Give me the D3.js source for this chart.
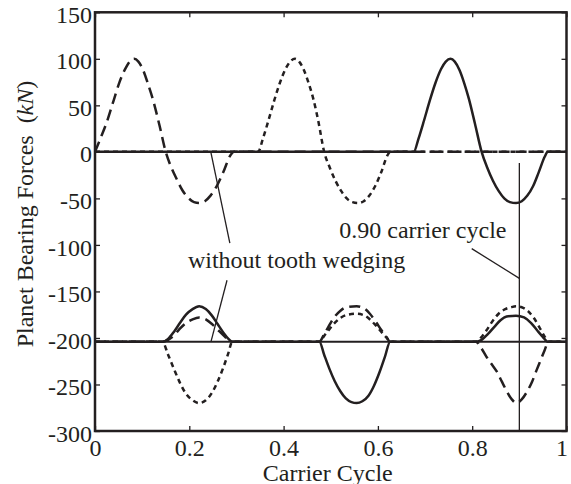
<!DOCTYPE html>
<html>
<head>
<meta charset="utf-8">
<script src="https://cdn.jsdelivr.net/npm/d3@7/dist/d3.min.js"></script>
<style>
  body { margin: 0; background: #fff; }
  svg { display: block; }
  text { font-family: "Liberation Serif", "Times New Roman", serif; fill: #231f20; }
</style>
</head>
<body>
<svg id="chart" width="571" height="484"></svg>
<script>
// ---- axis ticks ----
const xTicks = [0, 0.2, 0.4, 0.6, 0.8, 1];
const xTickLabels = ["0", "0.2", "0.4", "0.6", "0.8", "1"];
const yTicks = [150, 100, 50, 0, -50, -100, -150, -200, -250, -300];
const yTickLabels = ["150", "100", "50", "0", "-50", "-100", "-150", "-200", "-250", "-300"];

// ---- upper planet bearing (around 0 kN): [carrier cycle, force kN] ----
const upperDashed = [[0,0],[0.012,15],[0.025,32],[0.04,56],[0.052,75],[0.065,90],[0.075,98],[0.083,100],[0.092,97],[0.102,88],[0.113,72],[0.123,56],[0.137,28],[0.15,0],[0.162,-17],[0.174,-30],[0.185,-41],[0.197,-49],[0.21,-54],[0.221,-55],[0.233,-53],[0.245,-47],[0.258,-37],[0.272,-22],[0.288,-3],[0.295,0],[1,0]];
const upperDotted = [[0,0],[0.346,0],[0.356,14],[0.368,34],[0.38,55],[0.392,74],[0.404,89],[0.414,97],[0.424,100],[0.433,97],[0.443,88],[0.453,74],[0.463,57],[0.474,32],[0.486,0],[0.498,-17],[0.51,-31],[0.522,-42],[0.534,-50],[0.546,-54],[0.558,-55],[0.57,-53],[0.582,-47],[0.594,-37],[0.607,-22],[0.62,-4],[0.626,0],[1,0]];
const upperSolid = [[0,0],[0.676,0],[0.686,14],[0.698,34],[0.71,55],[0.722,74],[0.734,89],[0.744,97],[0.754,100],[0.763,97],[0.773,88],[0.783,74],[0.793,57],[0.806,30],[0.82,0],[0.832,-17],[0.844,-31],[0.856,-42],[0.868,-50],[0.88,-54],[0.893,-55],[0.905,-53],[0.917,-47],[0.929,-37],[0.941,-22],[0.954,-5],[0.96,0],[1,0]];

// ---- lower planet bearing (around -200 kN) ----
const lowerSolid = [[0,-204],[0.143,-204],[0.155,-201],[0.168,-193],[0.18,-184],[0.193,-175],[0.207,-169],[0.221,-166],[0.235,-169],[0.248,-176],[0.26,-185],[0.272,-194],[0.283,-201],[0.291,-204],
  [0.476,-204],[0.486,-218],[0.497,-233],[0.508,-246],[0.52,-257],[0.532,-265],[0.544,-269],[0.555,-270],[0.567,-268],[0.58,-262],[0.592,-251],[0.604,-236],[0.615,-220],[0.626,-204],
  [0.808,-204],[0.82,-202],[0.833,-196],[0.847,-188],[0.86,-181],[0.873,-177],[0.893,-176],[0.91,-178],[0.925,-184],[0.938,-192],[0.95,-199],[0.96,-204],[1,-204]];
const lowerDashed = [[0,-204],[0.143,-204],[0.155,-202],[0.168,-197],[0.18,-190],[0.193,-184],[0.207,-180],[0.221,-178],[0.235,-180],[0.248,-185],[0.26,-191],[0.272,-197],[0.283,-202],[0.291,-204],
  [0.476,-204],[0.485,-197],[0.495,-188],[0.507,-178],[0.52,-171],[0.533,-167],[0.555,-166],[0.57,-168],[0.583,-174],[0.596,-183],[0.608,-192],[0.618,-199],[0.626,-204],
  [0.808,-204],[0.818,-210],[0.83,-220],[0.841,-228],[0.852,-236],[0.863,-247],[0.873,-257],[0.884,-266],[0.894,-270],[0.905,-266],[0.916,-258],[0.927,-247],[0.937,-234],[0.945,-224],[0.953,-214],[0.962,-204],[1,-204]];
const lowerDotted = [[0,-204],[0.143,-204],[0.155,-218],[0.168,-234],[0.18,-248],[0.193,-260],[0.207,-267],[0.221,-270],[0.235,-267],[0.248,-259],[0.26,-247],[0.272,-232],[0.283,-216],[0.291,-204],
  [0.476,-204],[0.487,-197],[0.498,-190],[0.51,-183],[0.522,-178],[0.536,-175],[0.555,-174],[0.572,-176],[0.585,-181],[0.598,-188],[0.61,-195],[0.619,-200],[0.626,-204],
  [0.808,-204],[0.818,-200],[0.83,-192],[0.843,-182],[0.856,-174],[0.87,-169],[0.882,-167],[0.893,-166],[0.905,-167],[0.918,-171],[0.93,-178],[0.942,-188],[0.953,-198],[0.962,-204],[1,-204]];
// lower bearing force without tooth wedging
const lowerWithoutWedging = [[0,-204],[1,-204]];

// ---- annotations ----
const markerCycle = 0.9;
const markerSpan = [-12, -300];
const annotationTexts = [
  { text: "without tooth wedging", x: 0.197, y: -124.8 },
  { text: "0.90 carrier cycle", x: 0.518, y: -93 }
];
const pointerLines = [
  [[0.286, -98], [0.246, -1]],
  [[0.280, -138], [0.246, -204]],
  [[0.799, -104], [0.9, -136]]
];

// ---- layout ----
const ink = "#231f20";
const svg = d3.select("#chart");
const x = d3.scaleLinear().domain([0, 1]).range([95, 566.5]);
const y = d3.scaleLinear().domain([-300, 150]).range([431, 12.3]);

const line = d3.line().x(d => x(d[0])).y(d => y(d[1])).curve(d3.curveMonotoneX);
const straight = d3.line().x(d => x(d[0])).y(d => y(d[1]));

// series
const series = [
  { data: lowerWithoutWedging, dash: null, width: 2 },
  { data: upperDashed, dash: "11,6", width: 2.5 },
  { data: upperDotted, dash: "5,4", width: 2.5 },
  { data: upperSolid, dash: null, width: 2.5 },
  { data: lowerDashed, dash: "11,6", width: 2.5 },
  { data: lowerDotted, dash: "5,4", width: 2.5 },
  { data: lowerSolid, dash: null, width: 2.5 }
];
svg.append("g").selectAll("path").data(series).join("path")
  .attr("d", d => line(d.data))
  .attr("fill", "none")
  .attr("stroke", ink)
  .attr("stroke-width", d => d.width)
  .attr("stroke-dasharray", d => d.dash)
  .attr("stroke-linejoin", "round");

// marker line and pointers
svg.append("path")
  .attr("d", straight([[markerCycle, markerSpan[0]], [markerCycle, markerSpan[1]]]))
  .attr("stroke", ink).attr("stroke-width", 1.3).attr("fill", "none");
svg.append("g").selectAll("path").data(pointerLines).join("path")
  .attr("d", d => straight(d))
  .attr("stroke", ink).attr("stroke-width", 1.3).attr("fill", "none");

svg.append("g").selectAll("text").data(annotationTexts).join("text")
  .attr("x", d => x(d.x)).attr("y", d => y(d.y))
  .attr("font-size", 24)
  .text(d => d.text);

// axes (ticks pointing inward on all four sides)
const fontSize = 24;
function styleAxis(g) {
  g.select(".domain").remove();
  g.selectAll(".tick line").attr("stroke", ink).attr("stroke-width", 1.3);
  g.selectAll(".tick text").attr("fill", ink).attr("font-size", fontSize)
    .attr("font-family", "'Liberation Serif', 'Times New Roman', serif");
}
svg.append("g").attr("transform", `translate(0,${y(-300)})`)
  .call(d3.axisBottom(x).tickValues(xTicks).tickSize(-5).tickPadding(8)
    .tickFormat((d, i) => xTickLabels[i]))
  .call(styleAxis)
  .call(g => g.selectAll(".tick text").attr("dy", "0.7em")
    .attr("dx", d => d === 1 ? -5 : 0));
svg.append("g").attr("transform", `translate(0,${y(150)})`)
  .call(d3.axisTop(x).tickValues(xTicks).tickSize(-5).tickFormat(""))
  .call(styleAxis);
svg.append("g").attr("transform", `translate(${x(0)},0)`)
  .call(d3.axisLeft(y).tickValues(yTicks).tickSize(-5).tickPadding(3)
    .tickFormat((d, i) => yTickLabels[i]))
  .call(styleAxis)
  .call(g => g.selectAll(".tick text").attr("dy", "0.42em"));
svg.append("g").attr("transform", `translate(${x(1)},0)`)
  .call(d3.axisRight(y).tickValues(yTicks).tickSize(-5).tickFormat(""))
  .call(styleAxis);

// frame
svg.append("rect")
  .attr("x", x(0)).attr("y", y(150))
  .attr("width", x(1) - x(0)).attr("height", y(-300) - y(150))
  .attr("fill", "none").attr("stroke", ink).attr("stroke-width", 2.5);

// axis titles
svg.append("text")
  .attr("x", (x(0) + x(1)) / 2 - 3).attr("y", 480.5)
  .attr("text-anchor", "middle").attr("font-size", fontSize)
  .text("Carrier Cycle");

const yTitle = svg.append("text")
  .attr("transform", "translate(33,214) rotate(-90)")
  .attr("text-anchor", "middle").attr("font-size", fontSize)
  .attr("xml:space", "preserve");
yTitle.append("tspan").text("Planet Bearing Forces  (");
yTitle.append("tspan").attr("font-style", "italic").text("kN");
yTitle.append("tspan").text(")");
</script>
</body>
</html>
